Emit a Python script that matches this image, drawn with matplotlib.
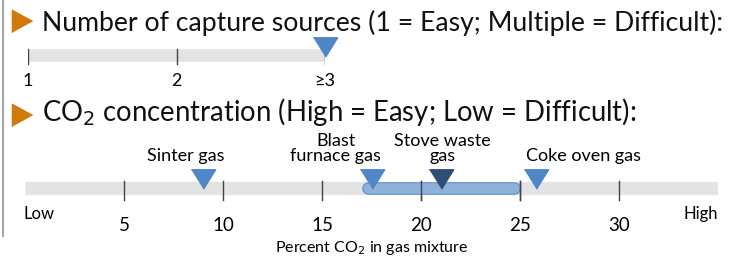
import matplotlib.pyplot as plt
import numpy as np

# data
src_ticks = [1, 2, 3]
src_labels = ["1", "2", "≥3"]
src_value = 3

co2_ticks = [5, 10, 15, 20, 25, 30]
co2_min, co2_max = 0, 35
gas_names = ["Sinter gas", "Blast\nfurnace gas", "Stove waste\ngas", "Coke oven gas"]
gas_values = [9.0, 17.5, 21.0, 25.8]
gas_colors = ["#4F86C6", "#4F86C6", "#2F4E76", "#4F86C6"]
range_lo, range_hi = 17.0, 25.0

W, H = 731, 258
plt.rcParams['font.family'] = ['Lato', 'DejaVu Sans']

fig = plt.figure(figsize=(W / 100, H / 100), dpi=100)

# background axes in pixel coords
bg = fig.add_axes([0, 0, 1, 1])
bg.set_xlim(0, W)
bg.set_ylim(H, 0)
bg.axis('off')
bg.plot([2.5, 2.5], [0, 236], color='#A6A6A6', lw=1.5)
tri_r = [(-1, -1.1), (-1, 1.1), (1, 0)]
bg.plot([22, 22], [21, 115], ls='none', marker=tri_r, markersize=16,
        color='#D07A0A')
bg.text(42, 31, "Number of capture sources (1 = Easy; Multiple = Difficult):",
        fontsize=19.2, va='baseline', ha='left', color='#111111')
bg.text(42, 121, "CO$_2$ concentration (High = Easy; Low = Difficult):",
        fontsize=19.8, va='baseline', ha='left', color='#111111')

tri_d = [(-1, 0.8), (1, 0.8), (0, -0.8)]

# bar 1: number of sources
ax1 = fig.add_axes([28 / W, 0, (325 - 28) / W, 1])
ax1.set_xlim(1, 3)
ax1.set_ylim(H, 0)
ax1.axis('off')
ax1.plot([1, 3], [55, 55], color='#E3E3E3', lw=9, solid_capstyle='butt')
for t, lab in zip(src_ticks, src_labels):
    ax1.plot([t, t], [49, 64], color='#444444', lw=1)
    ax1.text(t, 86, lab, ha='center', va='baseline', fontsize=13)
ax1.plot([src_value], [47], ls='none', marker=tri_d, markersize=17.5,
         color='#4F86C6', clip_on=False)

# bar 2: CO2 concentration
ax2 = fig.add_axes([25 / W, 0, 693 / W, 1])
ax2.set_xlim(co2_min, co2_max)
ax2.set_ylim(H, 0)
ax2.axis('off')
ax2.plot([co2_min, co2_max], [187.5, 187.5], color='#E3E3E3', lw=9.5,
         solid_capstyle='butt')
for t in co2_ticks:
    ax2.plot([t, t], [181, 200], color='#444444', lw=1)
    ax2.text(t, 231, str(t), ha='center', va='baseline', fontsize=13.5)
ax2.text(co2_min - 0.1, 219, "Low", ha='left', va='baseline', fontsize=12)
ax2.text(co2_max, 219, "High", ha='right', va='baseline', fontsize=12)

# range pill
ax2.plot([range_lo + 0.3, range_hi - 0.3], [187.5, 187.5], color='#4F86C6',
         lw=9, solid_capstyle='round')
ax2.plot([range_lo + 0.3, range_hi - 0.3], [187.5, 187.5], color='#8EB1DA',
         lw=7.6, solid_capstyle='round')
for t in co2_ticks:
    if range_lo < t <= range_hi:
        ax2.plot([t, t], [181, 200], color='#444444', lw=1)

for name, v, c in zip(gas_names, gas_values, gas_colors):
    ax2.plot([v], [178.5], ls='none', marker=tri_d, markersize=17.5, color=c)

label_x = [8.1, 15.7, 21.1, 28.2]
for name, x in zip(gas_names, label_x):
    ax2.text(x, 161, name, ha='center', va='baseline', fontsize=13,
             linespacing=0.9)

ax2.text(17.5, 252, "Percent CO$_2$ in gas mixture", ha='center', va='baseline',
         fontsize=11.5)

fig.savefig("out.png", dpi=100)
